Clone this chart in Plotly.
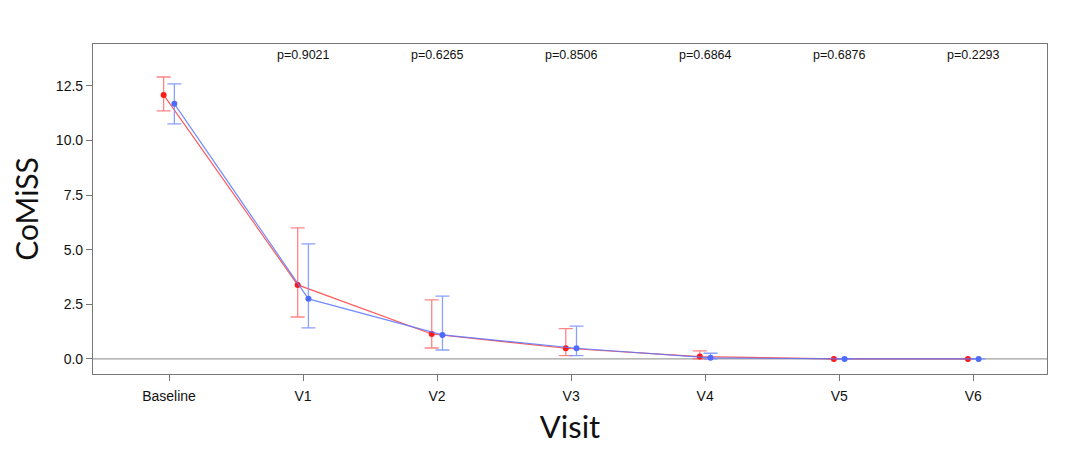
import plotly.graph_objects as go

visits = ["Baseline", "V1", "V2", "V3", "V4", "V5", "V6"]
p_values = ["p=0.9021", "p=0.6265", "p=0.8506", "p=0.6864", "p=0.6876", "p=0.2293"]

red_mean = [12.09, 3.39, 1.14, 0.49, 0.11, 0.0, 0.0]
red_upper = [12.91, 6.00, 2.70, 1.39, 0.37, 0.0, 0.0]
red_lower = [11.36, 1.92, 0.50, 0.15, 0.00, 0.0, 0.0]

blue_mean = [11.68, 2.75, 1.10, 0.49, 0.05, 0.0, 0.0]
blue_upper = [12.59, 5.27, 2.88, 1.50, 0.26, 0.0, 0.0]
blue_lower = [10.76, 1.42, 0.41, 0.15, 0.00, 0.0, 0.0]

dodge = 0.04
xi = list(range(len(visits)))

fig = go.Figure()

def add_series(mean, up, lo, off, line_col, mark_col, err_col):
    fig.add_trace(go.Scatter(
        x=[i + off for i in xi], y=mean, mode="lines+markers",
        line=dict(color=line_col, width=1.2),
        marker=dict(color=mark_col, size=6),
        error_y=dict(type="data", symmetric=False,
                     array=[u - m for u, m in zip(up, mean)],
                     arrayminus=[m - l for m, l in zip(mean, lo)],
                     color=err_col, thickness=1.3, width=7),
        showlegend=False, cliponaxis=False,
    ))

add_series(red_mean, red_upper, red_lower, -dodge, "rgba(255,60,60,0.85)", "#ff1a1a", "rgba(255,110,110,0.85)")
add_series(blue_mean, blue_upper, blue_lower, dodge, "rgba(90,120,255,0.85)", "#4d6bff", "rgba(120,145,255,0.85)")

for i, p in enumerate(p_values):
    fig.add_annotation(x=i + 1, y=1, yref="paper", yshift=-2, text=p, showarrow=False,
                       font=dict(family="Liberation Sans, Arial", size=12.5, color="#111"))

fig.add_shape(type="line", xref="paper", x0=0, x1=1, y0=0, y1=0,
              line=dict(color="#a0a0a0", width=1.2), layer="below")

fig.update_layout(
    width=1072, height=437,
    margin=dict(l=85, r=33, t=36, b=71),
    plot_bgcolor="white", paper_bgcolor="white",
    xaxis=dict(range=[-0.567, 6.55], tickmode="array", tickvals=xi, ticktext=visits,
               automargin=False,
               showgrid=False, zeroline=False, showline=True, mirror=True,
               linecolor="#777", linewidth=1.2, ticks="outside", ticklen=6, tickcolor="#777",
               ticklabelstandoff=3,
               tickfont=dict(family="Liberation Sans, Arial", size=14, color="#111"),
               title=dict(text="Visit", font=dict(family="Lato", size=31, color="#111"), standoff=20)),
    yaxis=dict(range=[-0.69, 14.42], tickmode="array", tickvals=[0, 2.5, 5, 7.5, 10, 12.5],
               ticktext=["0.0", "2.5", "5.0", "7.5", "10.0", "12.5"],
               automargin=False,
               showgrid=False, zeroline=False, showline=True, mirror=True,
               linecolor="#777", linewidth=1.2, ticks="outside", ticklen=6, tickcolor="#777",
               tickfont=dict(family="Liberation Sans, Arial", size=14, color="#111"),
               title=dict(text="CoMiSS", font=dict(family="Lato", size=30, color="#111"), standoff=10)),
)

fig.write_html("out.html")
